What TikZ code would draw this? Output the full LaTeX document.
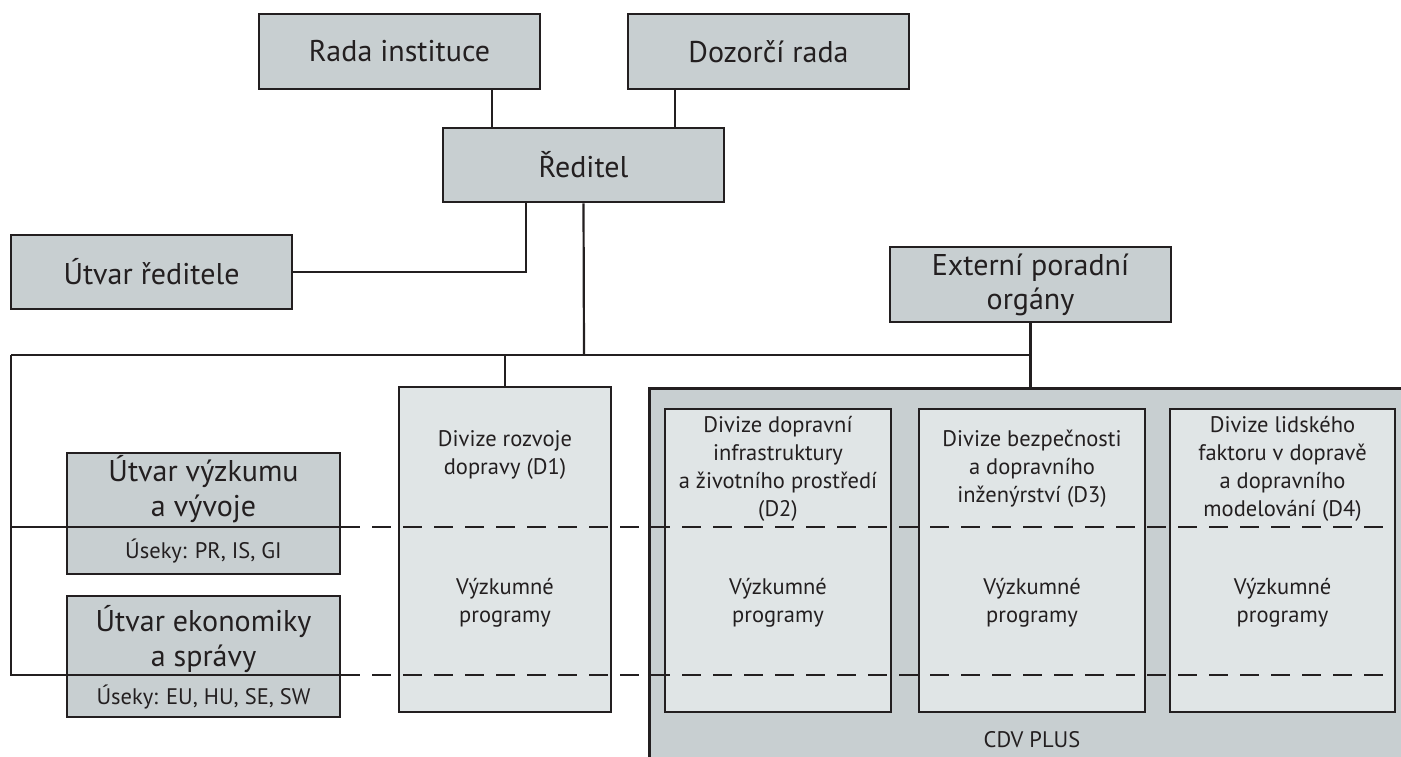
\documentclass[tikz,border=0pt]{standalone}
\usepackage{fontspec}
\setmainfont{PT Sans}
\definecolor{boxgray}{HTML}{C8CFD1}
\definecolor{paleg}{HTML}{E0E5E6}
\definecolor{ink}{HTML}{231F20}
\begin{document}
\begin{tikzpicture}[x=1pt,y=-1pt,
  bigbox/.style={draw=ink, line width=2.6pt, fill=boxgray, minimum width=281pt, minimum height=75pt, inner sep=0pt, font=\fontsize{30}{34}\selectfont, text=ink, align=center},
  divbox/.style={draw=ink, line width=2.6pt, fill=paleg, inner sep=0pt},
  utbox/.style={draw=ink, line width=2.6pt, fill=boxgray, inner sep=0pt, minimum width=273pt, minimum height=121pt},
  conn/.style={draw=ink, line width=2.2pt},
  dashline/.style={draw=ink, line width=2.4pt, dash pattern=on 19pt off 12pt},
  bigtxt/.style={font=\fontsize{30}{35}\selectfont, text=ink, align=center, inner sep=0pt},
  smalltxt/.style={font=\fontsize{22.5}{28}\selectfont, text=ink, align=center, inner sep=0pt}]
\useasboundingbox (0,0) rectangle (1401,756);

% top boxes
\node[bigbox] (rada) at (399.5,51.5) {Rada instituce};
\node[bigbox] (dozor) at (768.5,51.5) {Dozorčí rada};
\node[bigbox, minimum height=74pt] (reditel) at (583.5,165) {Ředitel};
\node[bigbox, minimum height=74pt] (utvarR) at (151.5,272) {Útvar ředitele};
\node[bigbox] (ext) at (1030.5,284.5) {Externí poradní\\orgány};

% CDV PLUS container and divisions
\node[draw=ink, line width=2.6pt, fill=boxgray, inner sep=0pt, minimum width=770pt, minimum height=385pt, anchor=north west] (cdv) at (648,387) {};
\node[divbox, minimum width=212pt, minimum height=325pt] (d1) at (505,549.5) {};
\node[divbox, minimum width=226pt, minimum height=303pt] (d2) at (778,560.5) {};
\node[divbox, minimum width=226pt, minimum height=303pt] (d3) at (1032,560.5) {};
\node[divbox, minimum width=225pt, minimum height=303pt] (d4) at (1282.5,560.5) {};

% left units
\node[utbox] (utvarV) at (203.5,513.5) {};
\node[utbox] (utvarE) at (203.5,656.5) {};

% coordinates
\coordinate (bus) at (584,355);
\coordinate (busL) at (11,355);
\coordinate (midL) at (11,527);
\coordinate (lowL) at (11,675);

% connectors
\draw[conn] ([xshift=50pt]reditel.north west) -- ([xshift=50pt]reditel.north west |- rada.south);
\draw[conn] ([xshift=233pt]reditel.north west) -- ([xshift=233pt]reditel.north west |- dozor.south);
\draw[conn] ([xshift=84pt]reditel.south west) |- (utvarR.east);
\draw[conn] (reditel.south) -- (bus);
\draw[conn] (busL) -- (busL -| ext.south);
\draw[conn] (ext.south) -- (ext.south |- cdv.north);
\draw[conn] (d1.north) -- (d1.north |- busL);
\draw[conn] (busL) -- (lowL) -- (utvarE.east |- lowL);
\draw[conn] (midL) -- (utvarV.east |- midL);
\draw[dashline] (utvarV.east |- midL) -- (d4.east |- midL);
\draw[dashline] (utvarE.east |- lowL) -- (d4.east |- lowL);

% texts
\node[bigtxt] (utvarVt) at (203.5,489.5) {Útvar výzkumu\\a vývoje};
\node[smalltxt] (utvarVs) at (203.5,551) {Úseky: PR, IS, GI};
\node[bigtxt] (utvarEt) at (203.5,639) {Útvar ekonomiky\\a správy};
\node[smalltxt] (utvarEs) at (203.5,697) {Úseky: EU, HU, SE, SW};

\node[smalltxt] (d1t) at (505,455.5) {Divize rozvoje\\dopravy (D1)};
\node[smalltxt] (d1p) at (505,602.5) {Výzkumné\\programy};
\node[smalltxt] (d2t) at (778,468.5) {Divize dopravní\\infrastruktury\\a životního prostředí\\(D2)};
\node[smalltxt] (d2p) at (778,602.5) {Výzkumné\\programy};
\node[smalltxt] (d3t) at (1032,469) {Divize bezpečnosti\\a dopravního\\inženýrství (D3)};
\node[smalltxt] (d3p) at (1032,602.5) {Výzkumné\\programy};
\node[smalltxt] (d4t) at (1282.5,468.5) {Divize lidského\\faktoru v dopravě\\a dopravního\\modelování (D4)};
\node[smalltxt] (d4p) at (1282.5,602.5) {Výzkumné\\programy};
\node[smalltxt] (cdvt) at (1032,740) {CDV PLUS};
\end{tikzpicture}
\end{document}
